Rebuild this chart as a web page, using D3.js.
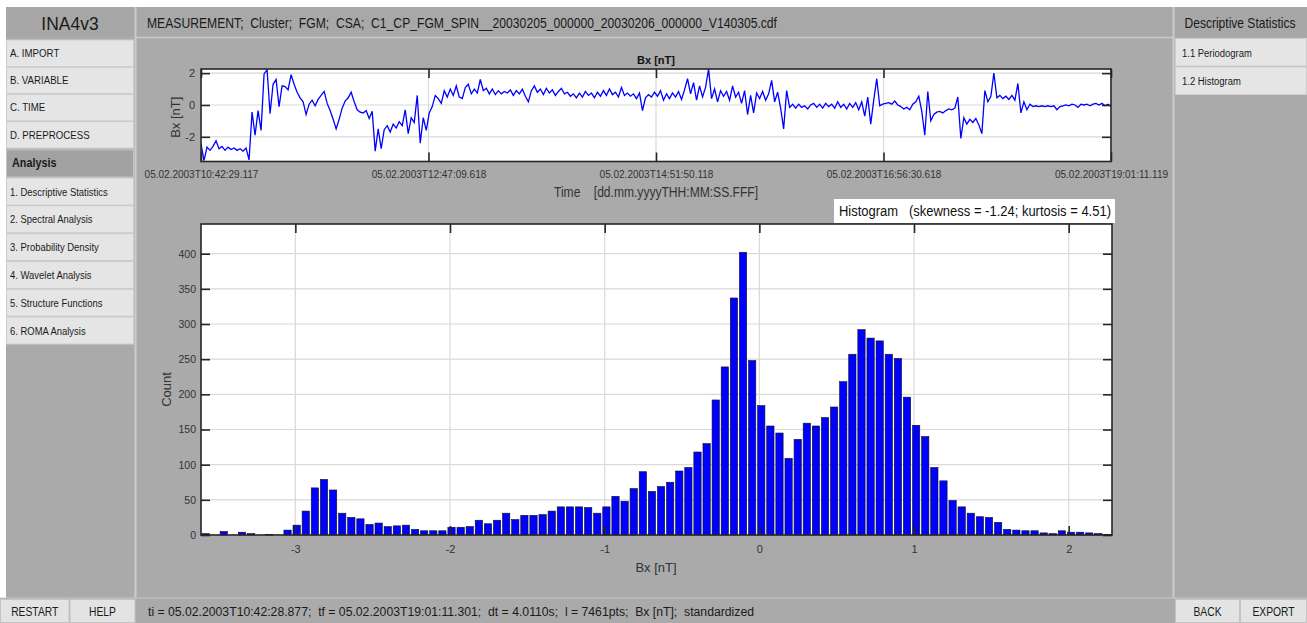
<!DOCTYPE html>
<html>
<head>
<meta charset="utf-8">
<script src="https://cdn.jsdelivr.net/npm/d3@7"></script>
<style>
  body { margin: 0; background: #fff; overflow: hidden; }
  text { font-family: "Liberation Sans", Arial, sans-serif; }
</style>
</head>
<body>
<svg id="chart" width="1307" height="623"></svg>
<script>
// --- gui texts
const appTitle = "INA4v3";
const menuItems = ["A. IMPORT", "B. VARIABLE", "C. TIME", "D. PREPROCESS"];
const analysisTitle = "Analysis";
const analysisItems = ["1. Descriptive Statistics", "2. Spectral Analysis", "3. Probability Density",
  "4. Wavelet Analysis", "5. Structure Functions", "6. ROMA Analysis"];
const statTitle = "Descriptive Statistics";
const statItems = ["1.1 Periodogram", "1.2 Histogram"];
const headerText = "MEASUREMENT;  Cluster;  FGM;  CSA;  C1_CP_FGM_SPIN__20030205_000000_20030206_000000_V140305.cdf";
const statusText = "ti = 05.02.2003T10:42:28.877;  tf = 05.02.2003T19:01:11.301;  dt = 4.0110s;  l = 7461pts;  Bx [nT];  standardized";
const leftButtons = ["RESTART", "HELP"];
const rightButtons = ["BACK", "EXPORT"];

// --- time series (standardized Bx)
const timeTicks = ["05.02.2003T10:42:29.117", "05.02.2003T12:47:09.618", "05.02.2003T14:51:50.118",
  "05.02.2003T16:56:30.618", "05.02.2003T19:01:11.119"];
const seriesTicks = [-2, 0, 2];
const seriesRange = [-3.55, 2.26];
const bxSeries = [
  -2.45,-3.5,-2.65,-2.85,-2.6,-2.25,-2.75,-2.6,-2.85,-2.65,
  -2.8,-2.7,-2.85,-2.75,-2.9,-2.7,-3.45,-0.45,-1.9,-0.35,
  -1.6,1.95,2.2,-0.55,1.3,1.6,-0.1,1.2,1.15,0.95,
  1.9,1.3,0.8,0.45,0.2,-0.6,0.05,0.3,-0.05,0.35,
  0.6,0.85,0.1,-0.35,-0.9,-1.5,-0.9,-0.2,0.25,0.45,
  0.8,0.2,-0.3,-0.45,-0.5,-0.35,-0.85,-0.4,-2.9,-1.5,
  -2.75,-1.55,-1.3,-1.7,-1.2,-1.45,-1.05,-1.3,-0.3,-1.8,
  -0.8,-1.1,0.6,-2.4,-0.8,-1.6,-0.5,-0.1,0.6,0.4,
  0.1,0.9,0.5,1.0,0.6,1.2,0.5,0.4,1.1,1.3,
  0.7,1.0,0.75,1.6,0.9,1.05,0.7,1.0,0.65,0.9,
  0.7,0.85,
  0.75,0.95,0.6,0.9,0.7,1.0,0.55,0.2,0.9,1.2,
  0.8,1.0,0.65,1.05,0.75,0.95,0.6,0.85,1.05,0.7,
  0.8,0.55,0.7,0.45,0.75,0.5,0.85,0.6,0.75,0.45,
  0.8,0.55,0.9,0.6,1.0,0.65,0.8,0.5,1.1,0.6,
  0.75,0.55,0.7,0.4,0.75,-0.35,0.45,0.65,0.5,0.8,
  0.55,0.9,0.3,0.7,0.4,0.75,0.5,0.85,0.35,0.95,
  1.65,0.7,1.4,0.3,1.2,0.5,1.1,2.25,0.4,1.0,
  0.2,0.9,0.55,0.85,0.3,1.2,0.5,0.8,0.1,0.9,
  -0.6,0.6,-0.5,0.75,0.4,0.85,0.3,0.7,1.55,0.2,
  0.8,-0.2,-1.5,0.9,-0.15,0.05,-0.2,0.05,-0.15,-0.05,
  -0.25,0.0,
  0.1,-0.15,0.05,-0.2,0.1,-0.1,0.05,-0.2,0.2,-0.15,
  0.05,-0.25,0.1,-0.15,0.15,-0.3,0.2,-0.7,0.5,-1.2,
  0.3,1.65,-0.05,0.05,0.1,0.15,0.05,0.25,0.0,-0.1,
  -0.25,-0.15,-0.3,0.05,0.2,0.55,-0.4,-1.9,0.85,-1.0,
  -0.6,-0.45,-0.4,-0.5,-0.35,-0.25,-0.3,-0.2,0.5,-2.1,
  -0.8,-1.2,-0.9,-1.1,-0.85,-1.25,-1.8,0.9,0.2,0.55,
  2.0,0.45,0.6,0.4,0.55,0.35,0.6,0.3,1.35,-0.5,
  0.2,-0.3,0.05,-0.1,-0.05,-0.1,-0.05,-0.1,-0.05,-0.1,
  -0.05,-0.3,-0.1,-0.05,0.0,-0.05,0.05,0.0,-0.15,0.05,
  0.0,0.05,-0.05,0.05,0.1,0.0,0.1,-0.05,0.05,-0.1
];

// --- histogram
const histTitle = "Histogram   (skewness = -1.24; kurtosis = 4.51)";
const binRange = [-3.61, 2.28];
const histCounts = [
  2,0,5,0,4,2,0,1,0,7,
  14,34,67,79,64,31,25,23,15,17,
  12,13,14,8,6,6,6,11,11,12,
  21,16,21,31,22,28,28,29,34,40,
  40,40,39,31,40,55,48,66,90,62,
  69,75,91,96,118,130,192,239,337,402,
  248,184,155,145,109,136,159,155,167,182,
  218,257,292,280,276,257,251,196,156,140,
  96,77,49,40,31,26,25,18,8,7,
  6,6,3,2,6,4,4,3,2,1
];
const bxTicks = [-3, -2, -1, 0, 1, 2];
const countTicks = [0, 50, 100, 150, 200, 250, 300, 350, 400];

const svg = d3.select("#chart");
const guiText = "#1a1a1a";
const axisText = "#333";
const axisLine = "#262626";
const gridColor = "#d9d9d9";
const plain = d => String(d);

function panel(x, y, w, h, fill, stroke) {
  return svg.append("rect")
    .attr("x", x).attr("y", y).attr("width", w).attr("height", h)
    .attr("fill", fill).attr("stroke", stroke || "none");
}

function label(g, s, x, y, o = {}) {
  const t = g.append("text").text(s)
    .attr("transform", `translate(${x},${y})` + (o.rotate ? ` rotate(${o.rotate})` : "") + ` scale(${o.sx || 1},1)`)
    .attr("font-size", o.size || 11)
    .attr("fill", o.fill || guiText)
    .attr("text-anchor", o.anchor || "start")
    .style("white-space", "pre");
  if (o.weight) t.attr("font-weight", o.weight);
  if (o.width) t.attr("textLength", o.width).attr("lengthAdjust", "spacingAndGlyphs");
  return t;
}

// ---------- frame
svg.append("rect").attr("width", 1307).attr("height", 623).attr("fill", "#fff");
panel(6, 7, 1301, 591, "#aaaaaa");

// left column
panel(6, 7, 128, 30, "#a7a7a7");
label(svg, appTitle, 70, 30, { size: 19, anchor: "middle", sx: 0.92 });
menuItems.forEach((m, i) => {
  const y = 40 + i * 27.2;
  panel(6.5, y, 127, 26.5, "#e5e5e5", "#cdcdcd");
  label(svg, m, 10, y + 17, { size: 11, sx: 0.88 });
});
panel(6.5, 150, 127, 27, "#a2a2a2", "#c4c4c4");
label(svg, analysisTitle, 12, 167, { size: 12, weight: "bold", sx: 0.9 });
analysisItems.forEach((m, i) => {
  const y = 178 + i * 27.8;
  panel(6.5, y, 127, 27, "#e5e5e5", "#cdcdcd");
  label(svg, m, 10, y + 17.5, { size: 11, sx: 0.86 });
});

// top header
panel(137, 7, 1035, 30, "#a8a8a8");
label(svg, headerText, 147, 28, { size: 15, width: 630 });

// right column
panel(1175, 7, 132, 30, "#a7a7a7");
label(svg, statTitle, 1240, 28, { size: 14, anchor: "middle", sx: 0.86 });
statItems.forEach((m, i) => {
  const y = 38.5 + i * 28.5;
  panel(1175.5, y, 131, 27.5, "#e5e5e5", "#cdcdcd");
  label(svg, m, 1182, y + 18, { size: 11, sx: 0.86 });
});

// separators
svg.append("g").attr("stroke", "#cbcbcb").attr("stroke-width", 2)
  .selectAll("line").data([135.5, 1173.5]).join("line")
  .attr("x1", d => d).attr("x2", d => d).attr("y1", 7).attr("y2", 623);
svg.append("line").attr("x1", 136).attr("x2", 1173).attr("y1", 37.5).attr("y2", 37.5)
  .attr("stroke", "#cbcbcb").attr("stroke-width", 1.5);

// bottom bar
panel(0, 598, 1307, 25, "#aaaaaa");
svg.append("line").attr("x1", 0).attr("x2", 1307).attr("y1", 598).attr("y2", 598).attr("stroke", "#c8c8c8");
leftButtons.forEach((b, i) => {
  const x = i === 0 ? 0.5 : 70;
  const w = i === 0 ? 68.5 : 65;
  panel(x, 599.5, w, 23, "#e3e3e3", "#c4c4c4");
  label(svg, b, x + w / 2, 616, { size: 12, anchor: "middle", sx: 0.86 });
});
rightButtons.forEach((b, i) => {
  const x = i === 0 ? 1175.5 : 1240.5;
  const w = i === 0 ? 64 : 66;
  panel(x, 599.5, w, 23, "#e3e3e3", "#c4c4c4");
  label(svg, b, x + w / 2, 616, { size: 12, anchor: "middle", sx: 0.86 });
});
label(svg, statusText, 148, 616, { size: 12, width: 606 });

// ---------- time series plot
const ts = { left: 201, right: 1111, top: 69, bottom: 161.5 };
const parseT = d3.utcParse("%d.%m.%YT%H:%M:%S.%L");
const tickDates = timeTicks.map(parseT);
const xT = d3.scaleUtc().domain([tickDates[0], tickDates[tickDates.length - 1]]).range([ts.left, ts.right]);
const yT = d3.scaleLinear().domain(seriesRange).range([ts.bottom, ts.top]);
const step = (tickDates[tickDates.length - 1] - tickDates[0]) / (bxSeries.length - 1);
const seriesPts = bxSeries.map((v, i) => ({ t: new Date(+tickDates[0] + i * step), v }));

const gT = svg.append("g");
gT.append("rect").attr("x", ts.left).attr("y", ts.top)
  .attr("width", ts.right - ts.left).attr("height", ts.bottom - ts.top).attr("fill", "#fff");

// grid
gT.append("g").selectAll("line").data(seriesTicks).join("line")
  .attr("x1", ts.left).attr("x2", ts.right).attr("y1", d => yT(d)).attr("y2", d => yT(d))
  .attr("stroke", gridColor).attr("stroke-width", 1.2);
gT.append("g").selectAll("line").data(tickDates).join("line")
  .attr("x1", d => xT(d)).attr("x2", d => xT(d)).attr("y1", ts.top).attr("y2", ts.bottom)
  .attr("stroke", gridColor).attr("stroke-width", 1.2);

svg.append("clipPath").attr("id", "tsClip").append("rect")
  .attr("x", ts.left).attr("y", ts.top).attr("width", ts.right - ts.left).attr("height", ts.bottom - ts.top);
gT.append("path").datum(seriesPts)
  .attr("clip-path", "url(#tsClip)")
  .attr("fill", "none").attr("stroke", "#0000ff").attr("stroke-width", 1.3)
  .attr("d", d3.line().x(d => xT(d.t)).y(d => yT(d.v)));

function inwardTicks(g, axis, transform) {
  g.append("g").attr("transform", transform).call(axis)
    .call(a => a.select(".domain").remove())
    .call(a => a.selectAll("line").attr("stroke", axisLine).attr("stroke-width", 1.6));
}
function styleLabels(a, size) {
  a.select(".domain").remove();
  a.selectAll("line").remove();
  a.selectAll("text").attr("fill", axisText).attr("font-size", size)
    .attr("font-family", '"Liberation Sans", Arial, sans-serif');
}

inwardTicks(gT, d3.axisBottom(xT).tickValues(tickDates).tickSize(9).tickFormat(""), `translate(0,${ts.top})`);
inwardTicks(gT, d3.axisTop(xT).tickValues(tickDates).tickSize(9).tickFormat(""), `translate(0,${ts.bottom})`);
inwardTicks(gT, d3.axisRight(yT).tickValues(seriesTicks).tickSize(9).tickFormat(""), `translate(${ts.left},0)`);
inwardTicks(gT, d3.axisLeft(yT).tickValues(seriesTicks).tickSize(9).tickFormat(""), `translate(${ts.right},0)`);
gT.append("rect").attr("x", ts.left).attr("y", ts.top)
  .attr("width", ts.right - ts.left).attr("height", ts.bottom - ts.top)
  .attr("fill", "none").attr("stroke", axisLine).attr("stroke-width", 1.6);

gT.append("g").attr("transform", `translate(0,${ts.bottom})`)
  .call(d3.axisBottom(xT).tickValues(tickDates).tickSize(0).tickPadding(9.5).tickFormat((d, i) => timeTicks[i]))
  .call(a => styleLabels(a, 10));
gT.append("g").attr("transform", `translate(${ts.left},0)`)
  .call(d3.axisLeft(yT).tickValues(seriesTicks).tickSize(0).tickPadding(6).tickFormat(plain))
  .call(a => styleLabels(a, 11));

label(gT, "Bx [nT]", (ts.left + ts.right) / 2, 64, { size: 11, weight: "bold", anchor: "middle", fill: "#111" });
label(gT, "Bx [nT]", 180, (ts.top + ts.bottom) / 2 + 2, { size: 13, anchor: "middle", rotate: -90, fill: axisText });
label(gT, "Time    [dd.mm.yyyyTHH:MM:SS.FFF]", 554, 197, { size: 14, width: 204, fill: axisText });

// ---------- histogram
const hs = { left: 201, right: 1112, top: 224, bottom: 535 };
const xH = d3.scaleLinear().domain(binRange).range([hs.left, hs.right]);
const yH = d3.scaleLinear().domain([0, d3.max(histCounts) * 1.1]).range([hs.bottom, hs.top]);
const binW = (binRange[1] - binRange[0]) / histCounts.length;

const gH = svg.append("g");
gH.append("rect").attr("x", 834).attr("y", 199).attr("width", 281).attr("height", 24).attr("fill", "#fff");
label(gH, histTitle, 839, 216, { size: 14, width: 272, fill: "#111" });

gH.append("rect").attr("x", hs.left).attr("y", hs.top)
  .attr("width", hs.right - hs.left).attr("height", hs.bottom - hs.top).attr("fill", "#fff");
gH.append("g").selectAll("line").data(countTicks).join("line")
  .attr("x1", hs.left).attr("x2", hs.right).attr("y1", d => yH(d)).attr("y2", d => yH(d))
  .attr("stroke", gridColor).attr("stroke-width", 1.2);
gH.append("g").selectAll("line").data(bxTicks).join("line")
  .attr("x1", d => xH(d)).attr("x2", d => xH(d)).attr("y1", hs.top).attr("y2", hs.bottom)
  .attr("stroke", gridColor).attr("stroke-width", 1.2);

gH.append("g").selectAll("rect").data(histCounts).join("rect")
  .attr("x", (d, i) => xH(binRange[0] + (i + 0.1) * binW))
  .attr("width", xH(binRange[0] + 0.8 * binW) - xH(binRange[0]))
  .attr("y", d => yH(d))
  .attr("height", d => yH(0) - yH(d))
  .attr("fill", "#0000ff").attr("stroke", "#111").attr("stroke-width", 0.6);

inwardTicks(gH, d3.axisBottom(xH).tickValues(bxTicks).tickSize(9).tickFormat(""), `translate(0,${hs.top})`);
inwardTicks(gH, d3.axisTop(xH).tickValues(bxTicks).tickSize(9).tickFormat(""), `translate(0,${hs.bottom})`);
inwardTicks(gH, d3.axisRight(yH).tickValues(countTicks).tickSize(9).tickFormat(""), `translate(${hs.left},0)`);
inwardTicks(gH, d3.axisLeft(yH).tickValues(countTicks).tickSize(9).tickFormat(""), `translate(${hs.right},0)`);
gH.append("rect").attr("x", hs.left).attr("y", hs.top)
  .attr("width", hs.right - hs.left).attr("height", hs.bottom - hs.top)
  .attr("fill", "none").attr("stroke", axisLine).attr("stroke-width", 1.6);

gH.append("g").attr("transform", `translate(0,${hs.bottom})`)
  .call(d3.axisBottom(xH).tickValues(bxTicks).tickSize(0).tickPadding(10).tickFormat(plain))
  .call(a => styleLabels(a, 11));
gH.append("g").attr("transform", `translate(${hs.left},0)`)
  .call(d3.axisLeft(yH).tickValues(countTicks).tickSize(0).tickPadding(5).tickFormat(plain))
  .call(a => styleLabels(a, 10.5));

label(gH, "Count", 171, (hs.top + hs.bottom) / 2 + 10, { size: 13, anchor: "middle", rotate: -90, fill: axisText });
label(gH, "Bx [nT]", 656, 572, { size: 13, anchor: "middle", fill: axisText });
</script>
</body>
</html>
